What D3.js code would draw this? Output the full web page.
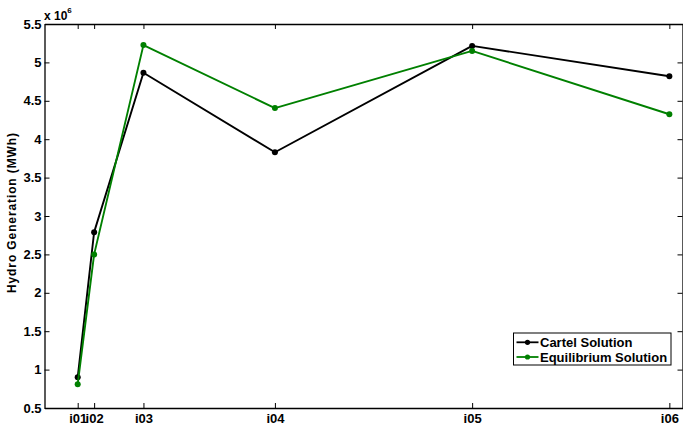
<!DOCTYPE html>
<html>
<head>
<meta charset="utf-8">
<script src="https://cdn.jsdelivr.net/npm/d3@7"></script>
<style>
  html, body { margin: 0; padding: 0; background: #fff; }
  svg { display: block; font-family: "Liberation Sans", Arial, Helvetica, sans-serif; }
</style>
</head>
<body>
<svg id="chart" width="683" height="425"></svg>
<script>
// Category labels and their positions along the x axis
const categories = ["i01", "i02", "i03", "i04", "i05", "i06"];
const positions = [1, 2, 5, 13, 25, 37];

// Hydro generation (MWh, x 10^6)
const cartel = [0.90, 2.79, 4.865, 3.83, 5.215, 4.82];
const equilibrium = [0.81, 2.50, 5.225, 4.405, 5.15, 4.325];

const yTicks = [0.5, 1, 1.5, 2, 2.5, 3, 3.5, 4, 4.5, 5, 5.5];
const seriesNames = ["Cartel Solution", "Equilibrium Solution"];
const seriesColors = ["#000000", "#008000"];

const svg = d3.select("#chart");
const margin = { left: 44.5, right: 682.5, top: 24, bottom: 408 };

const x = d3.scaleLinear().domain([-1.02, 37.8]).range([margin.left, margin.right]);
const y = d3.scaleLinear().domain([0.5, 5.5]).range([margin.bottom, margin.top]);

const font = "bold 13px 'Liberation Sans', Arial, sans-serif";

// Axes: bottom/left with labels, top/right mirrored ticks only (inward)
const xAxis = d3.axisBottom(x).tickValues(positions)
  .tickFormat((d, i) => categories[i]).tickSizeInner(-5).tickSizeOuter(0);
const yAxis = d3.axisLeft(y).tickValues(yTicks)
  .tickFormat(d3.format("")).tickSizeInner(-5).tickSizeOuter(0).tickPadding(3);

const gx = svg.append("g").attr("transform", `translate(0,${margin.bottom})`).call(xAxis);
const gy = svg.append("g").attr("transform", `translate(${margin.left},0)`).call(yAxis);
const gxTop = svg.append("g").attr("transform", `translate(0,${margin.top})`)
  .call(d3.axisTop(x).tickValues(positions).tickFormat("").tickSizeInner(-5).tickSizeOuter(0));
const gyRight = svg.append("g").attr("transform", `translate(${margin.right},0)`)
  .call(d3.axisRight(y).tickValues(yTicks).tickFormat("").tickSizeInner(-5).tickSizeOuter(0));

[gx, gy, gxTop, gyRight].forEach(g => {
  g.select(".domain").attr("stroke", "#000").attr("stroke-width", 1.3);
  g.selectAll(".tick line").attr("stroke", "#000").attr("stroke-width", 1);
  g.selectAll(".tick text").attr("fill", "#000")
    .style("font", font);
});
gx.selectAll(".tick text").attr("y", 15).attr("dy", 0);

// Exponent label
const expo = svg.append("text").attr("x", 44).attr("y", 20)
  .style("font", "bold 12px 'Liberation Sans', Arial, sans-serif").attr("fill", "#000");
expo.append("tspan").text("x 10");
expo.append("tspan").attr("dy", -7).style("font-size", "8px").text("6");

// Y axis title
svg.append("text")
  .attr("transform", `translate(16,${(margin.top + margin.bottom) / 2 - 3}) rotate(-90)`)
  .attr("text-anchor", "middle")
  .style("font", "bold 12px 'Liberation Sans', Arial, sans-serif")
  .attr("textLength", 160).attr("lengthAdjust", "spacing")
  .attr("fill", "#000")
  .text("Hydro Generation (MWh)");

// Series lines and markers
const line = d3.line().x(d => x(d.p)).y(d => y(d.v));
[cartel, equilibrium].forEach((vals, s) => {
  const pts = vals.map((v, i) => ({ p: positions[i], v }));
  svg.append("path").datum(pts)
    .attr("d", line).attr("fill", "none")
    .attr("stroke", seriesColors[s]).attr("stroke-width", 1.9)
    .attr("stroke-linejoin", "round");
  svg.selectAll(null).data(pts).enter().append("circle")
    .attr("cx", d => x(d.p)).attr("cy", d => y(d.v)).attr("r", 3)
    .attr("fill", seriesColors[s]);
});

// Legend
const lg = svg.append("g").attr("transform", "translate(513.5,333)");
lg.append("rect").attr("width", 157.5).attr("height", 32)
  .attr("fill", "#fff").attr("stroke", "#000").attr("stroke-width", 1);
seriesNames.forEach((name, i) => {
  const cy = 9.3 + i * 14.7;
  lg.append("line").attr("x1", 3).attr("x2", 25).attr("y1", cy).attr("y2", cy)
    .attr("stroke", seriesColors[i]).attr("stroke-width", 1.8);
  lg.append("circle").attr("cx", 14).attr("cy", cy).attr("r", 2.6).attr("fill", seriesColors[i]);
  lg.append("text").attr("x", 26.5).attr("y", cy + 4.6)
    .style("font", font).attr("fill", "#000").text(name);
});
</script>
</body>
</html>
